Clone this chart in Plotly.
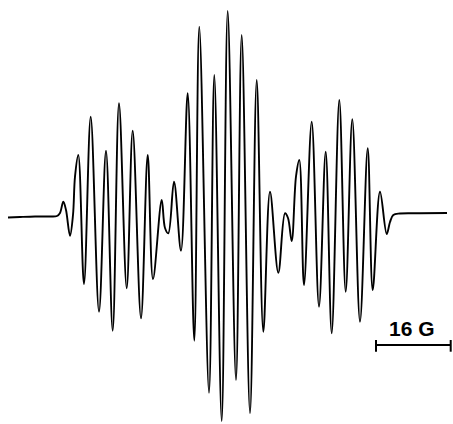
import plotly.graph_objects as go

# Field position (arbitrary units along sweep) and derivative signal amplitude (a.u.)
field = [8, 20, 35, 50, 57, 60, 63.3, 66, 70, 73, 75, 78.3, 84, 90.7, 99, 106, 112.7, 119,
         126.7, 132.7, 141, 147.7, 153, 161.7, 165, 168.3, 174, 181, 187.7, 194.3, 199.3,
         209, 214.3, 221.7, 227.7, 236, 241.7, 250, 256.7, 263.3, 270, 278.3, 285, 288,
         291.7, 296, 299.3, 304, 311.7, 319, 325.7, 331.7, 339.3, 345.7, 352.3, 360, 367.7,
         372.7, 380, 386.7, 390, 393.3, 400, 420, 447]
signal = [-1.5, -1, -0.5, -0.5, 0, 3, 14.3, 6, -19.7, 1, 39.3, 61, -68, 99.3, -95.7, 65.3,
          -114.7, 112.7, -72.3, 85.3, -102.3, 61, -63, 16, -12, -17.3, 34.3, -34.7, 122.7,
          -124.7, 189.3, -176.7, 141, -205, 205, -164, 181, -197.3, 136, -115.7, 24.3, -56.7,
          2.7, -2, -25, 39.5, 56, -69, 94.3, -90.7, 64.3, -117.3, 116, -75.7, 96.7, -105.7,
          67.7, -74, 24.3, -18, -6, 1, 2.5, 2.7, 3]

scale_label = "16 G"
scale_start = 376
scale_end = 450.7
scale_level = -129

fig = go.Figure()
fig.add_trace(go.Scatter(x=field, y=signal, mode="lines",
                         line=dict(color="black", width=1.9, shape="spline", smoothing=1.0),
                         hoverinfo="skip", showlegend=False))

# scale bar
fig.add_shape(type="line", x0=scale_start, x1=scale_end, y0=scale_level, y1=scale_level,
              line=dict(color="black", width=2))
for xe in (scale_start, scale_end):
    fig.add_shape(type="line", x0=xe, x1=xe, y0=scale_level + 5, y1=scale_level - 6.7,
                  line=dict(color="black", width=2))
fig.add_annotation(x=411.7, y=-112, text="<b>" + scale_label + "</b>", yanchor="middle",
                   showarrow=False, font=dict(family="Liberation Sans, Arial", size=21, color="black"))

fig.update_layout(width=453, height=424, margin=dict(l=0, r=0, t=0, b=0),
                  plot_bgcolor="white", paper_bgcolor="white",
                  xaxis=dict(range=[0, 453], visible=False, fixedrange=True),
                  yaxis=dict(range=[-208, 216], visible=False, fixedrange=True))
fig.write_html("out.html", config={"displayModeBar": False},
               post_script="document.body.style.margin='0';document.body.style.overflow='hidden';")
